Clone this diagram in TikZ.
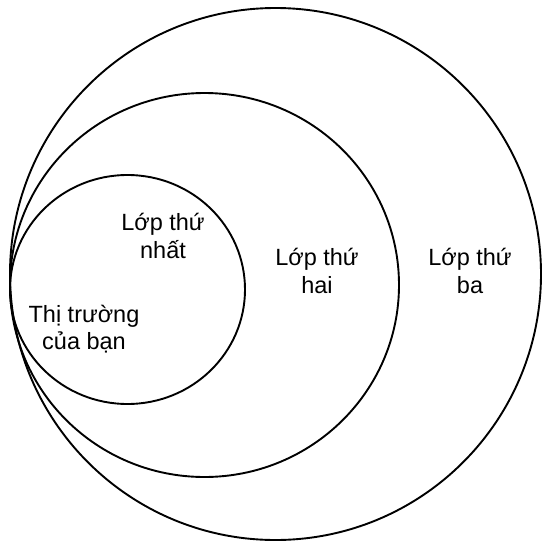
\documentclass[tikz,border=0pt]{standalone}
\usepackage{fontspec}
\setmainfont{Liberation Sans}
\begin{document}
\begin{tikzpicture}[x=1pt,y=-1pt,
  ring/.style={draw=black,line width=1.9pt},
  lbl/.style={align=center,font=\fontsize{23.5}{27.5}\selectfont,inner sep=0pt}]
\useasboundingbox[fill=white] (0,0) rectangle (543,552);
\draw[ring] (275.5,274) ellipse [x radius=265.5,y radius=266];
\draw[ring] (204.5,285) ellipse [x radius=194.5,y radius=192];
\draw[ring] (127.5,289.5) ellipse [x radius=117.5,y radius=114.5];
\node[lbl] (first) at (163,236) {Lớp thứ\\nhất};
\node[lbl] (second) at (317,271) {Lớp thứ\\hai};
\node[lbl] (third) at (470,271) {Lớp thứ\\ba};
\node[lbl] (market) at (84,329) {Thị trường\\của bạn};
\end{tikzpicture}
\end{document}
